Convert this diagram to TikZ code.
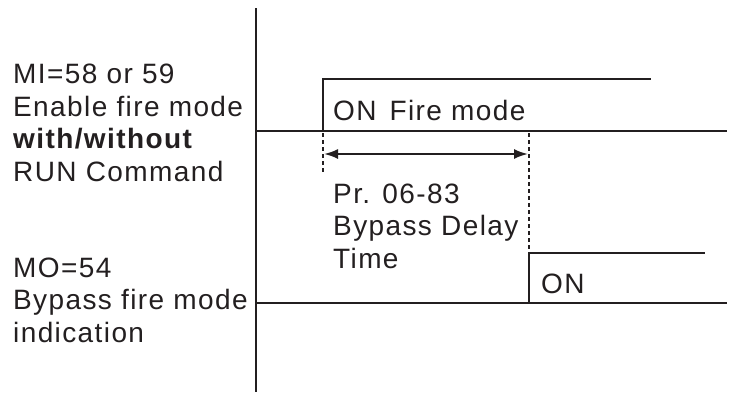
\documentclass[tikz,border=0pt]{standalone}
\usepackage{fontspec}
\setmainfont{Liberation Sans}[LetterSpace=5]
\usetikzlibrary{arrows.meta}
\definecolor{ink}{HTML}{231F20}
\tikzset{
  lbl/.style={anchor=base west, inner sep=0pt, text=ink, align=left,
    font=\fontsize{28}{32.5}\selectfont},
  sig/.style={draw=ink, line width=2pt},
  guide/.style={draw=ink, line width=2.6pt, dash pattern=on 4pt off 3pt},
  dim/.style={draw=ink, line width=2pt, {Latex[length=14pt,width=10pt]}-{Latex[length=14pt,width=10pt]}}
}
\begin{document}
\begin{tikzpicture}[x=1pt,y=-1pt]
\useasboundingbox (0,0) rectangle (735,392);
% axis
\coordinate (axT) at (256,8);
\coordinate (axB) at (256,392);
\draw[sig] (axT) -- (axB);
% signal 1
\coordinate (s1a) at (256,131);
\coordinate (s1r) at (323,131);
\coordinate (s1t) at (323,79);
\coordinate (s1e) at (651,79);
\coordinate (s1z) at (727,131);
\draw[sig] (s1a) -- (s1z);
\draw[sig] (s1r) -- (s1t) -- (s1e);
% signal 2
\coordinate (s2a) at (256,303);
\coordinate (s2r) at (529,303);
\coordinate (s2t) at (529,253);
\coordinate (s2e) at (705,253);
\coordinate (s2z) at (727,303);
\draw[sig] (s2a) -- (s2z);
\draw[sig] (s2r) -- (s2t) -- (s2e);
% guides
\coordinate (g1a) at (323,133);
\coordinate (g1b) at (323,174);
\coordinate (g2a) at (529,133);
\coordinate (g2b) at (529,250);
\draw[guide] (g1a) -- (g1b);
\draw[guide] (g2a) -- (g2b);
% dimension arrow
\coordinate (d1) at (324,154);
\coordinate (d2) at (528,154);
\draw[dim] (d1) -- (d2);
% labels
\node[lbl] (mi) at (13,181) {MI=58 or 59\\Enable fire mode\\\textbf{with/without}\\RUN Command};
\node[lbl] (mo) at (13,342) {MO=54\\Bypass fire mode\\indication};
\node[lbl] (on1) at (333,120) {ON\hspace{13pt}Fire mode};
\node[lbl] (pr) at (333,268) {Pr. 06-83\\Bypass Delay\\Time};
\node[lbl] (on2) at (541,293) {ON};
\end{tikzpicture}
\end{document}
